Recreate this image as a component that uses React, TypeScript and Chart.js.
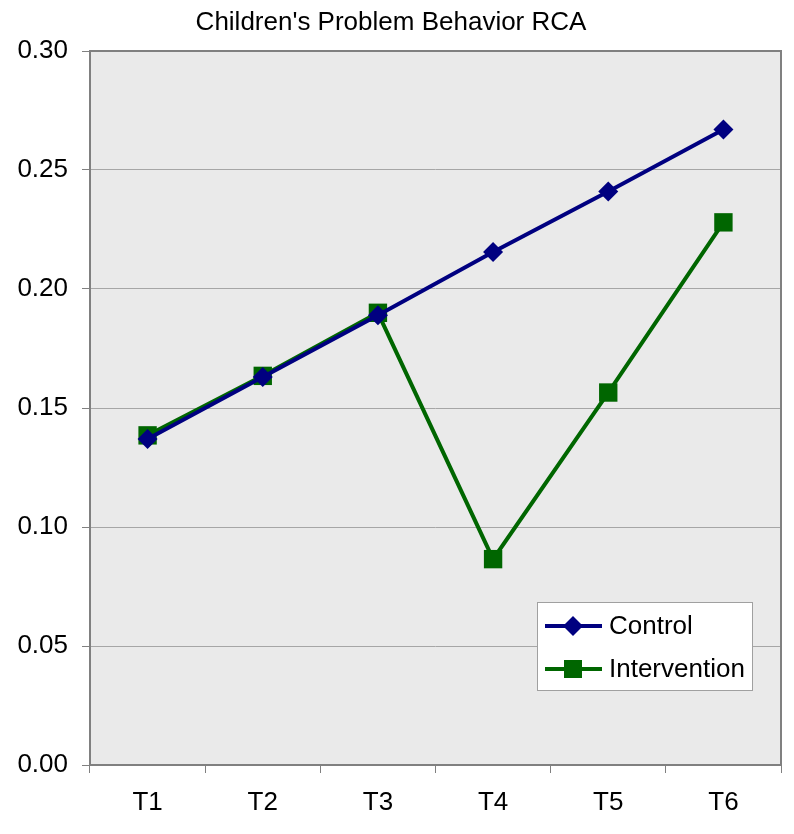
import React, { useEffect, useRef } from "react";
import { Chart, registerables } from "chart.js";

Chart.register(...registerables);

const categories = ["T1", "T2", "T3", "T4", "T5", "T6"];
const controlValues = [0.137, 0.163, 0.189, 0.2155, 0.241, 0.267];
const interventionValues = [0.1385, 0.1635, 0.19, 0.0865, 0.1565, 0.228];
const yTicks = [0, 0.05, 0.1, 0.15, 0.2, 0.25, 0.3];
const titleText = "Children's Problem Behavior RCA";
const seriesNames = ["Control", "Intervention"];

const FONT = "'Liberation Sans', Arial, sans-serif";
const NAVY = "#000080";
const GREEN = "#006600";

const plotDecor = {
  id: "plotDecor",
  beforeDraw(chart: any) {
    const { ctx, chartArea: a } = chart;
    ctx.save();
    ctx.fillStyle = "#EAEAEA";
    ctx.fillRect(a.left, a.top, a.right - a.left, a.bottom - a.top);
    ctx.restore();
  },
  afterDatasetsDraw(chart: any) {
    const { ctx, chartArea: a } = chart;
    ctx.save();
    // plot border
    ctx.strokeStyle = "#808080";
    ctx.lineWidth = 2;
    ctx.strokeRect(a.left, a.top, a.right - a.left, a.bottom - a.top);
    // title
    ctx.fillStyle = "#000";
    ctx.font = `26px ${FONT}`;
    ctx.textAlign = "center";
    ctx.textBaseline = "alphabetic";
    ctx.fillText(titleText, 391, 30);
    // legend
    const bx = a.right - 244;
    const by = a.bottom - 163;
    const bw = 215;
    const bh = 88;
    ctx.fillStyle = "#FFFFFF";
    ctx.fillRect(bx, by, bw, bh);
    ctx.strokeStyle = "#A0A0A0";
    ctx.lineWidth = 1;
    ctx.strokeRect(bx + 0.5, by + 0.5, bw, bh);
    const rows = [
      { name: seriesNames[0], color: NAVY, shape: "diamond", y: by + 24 },
      { name: seriesNames[1], color: GREEN, shape: "square", y: by + 67 },
    ];
    rows.forEach((r) => {
      ctx.strokeStyle = r.color;
      ctx.lineWidth = 4;
      ctx.beginPath();
      ctx.moveTo(bx + 8, r.y);
      ctx.lineTo(bx + 65, r.y);
      ctx.stroke();
      ctx.fillStyle = r.color;
      const cx = bx + 36;
      if (r.shape === "diamond") {
        ctx.beginPath();
        ctx.moveTo(cx - 10, r.y);
        ctx.lineTo(cx, r.y - 10);
        ctx.lineTo(cx + 10, r.y);
        ctx.lineTo(cx, r.y + 10);
        ctx.closePath();
        ctx.fill();
      } else {
        ctx.fillRect(cx - 9, r.y - 9, 18, 18);
      }
      ctx.fillStyle = "#000";
      ctx.font = `26px ${FONT}`;
      ctx.textAlign = "left";
      ctx.textBaseline = "middle";
      ctx.fillText(r.name, bx + 72, r.y + 1);
    });
    ctx.restore();
  },
};

export default function App() {
  const ref = useRef<HTMLCanvasElement | null>(null);
  useEffect(() => {
    document.body.style.margin = "0";
    const canvas = ref.current;
    if (!canvas) return;
    const chart = new Chart(canvas, {
      type: "line",
      data: {
        labels: categories,
        datasets: [
          {
            label: seriesNames[0],
            data: controlValues,
            borderColor: NAVY,
            backgroundColor: NAVY,
            borderWidth: 4,
            pointStyle: "rectRot",
            pointRadius: 10,
            pointBorderWidth: 0,
            tension: 0,
          },
          {
            label: seriesNames[1],
            data: interventionValues,
            borderColor: GREEN,
            backgroundColor: GREEN,
            borderWidth: 4,
            pointStyle: "rect",
            pointRadius: 13,
            pointBorderWidth: 0,
            tension: 0,
          },
        ],
      },
      plugins: [plotDecor],
      options: {
        responsive: false,
        animation: false,
        devicePixelRatio: 1,
        layout: { padding: { top: 51, right: 9, left: 0, bottom: 0 } },
        plugins: {
          legend: { display: false },
          title: { display: false },
          tooltip: { enabled: false },
        },
        scales: {
          x: {
            type: "category",
            offset: true,
            afterFit: (s: any) => {
              s.height = 69;
              s.paddingLeft = 0;
              s.paddingRight = 0;
            },
            grid: {
              offset: true,
              drawOnChartArea: false,
              drawTicks: true,
              tickLength: 8,
              color: "#808080",
              lineWidth: 1,
            },
            border: { display: false },
            ticks: {
              color: "#000",
              font: { family: FONT, size: 26 },
              padding: 14,
            },
          },
          y: {
            min: 0,
            max: 0.3,
            afterFit: (s: any) => {
              s.width = 90;
              s.paddingTop = 0;
              s.paddingBottom = 0;
            },
            afterBuildTicks: (s: any) => {
              s.ticks = yTicks.map((v) => ({ value: v }));
            },
            grid: {
              color: "#A6A6A6",
              lineWidth: 1,
              tickLength: 8,
              tickColor: "#808080",
            },
            border: { display: false },
            ticks: {
              color: "#000",
              font: { family: FONT, size: 26 },
              padding: 14,
              callback: (v: any) => Number(v).toFixed(2),
            },
          },
        },
      },
    });
    return () => chart.destroy();
  }, []);
  return <canvas ref={ref} width={794} height={834} style={{ display: "block" }} />;
}
